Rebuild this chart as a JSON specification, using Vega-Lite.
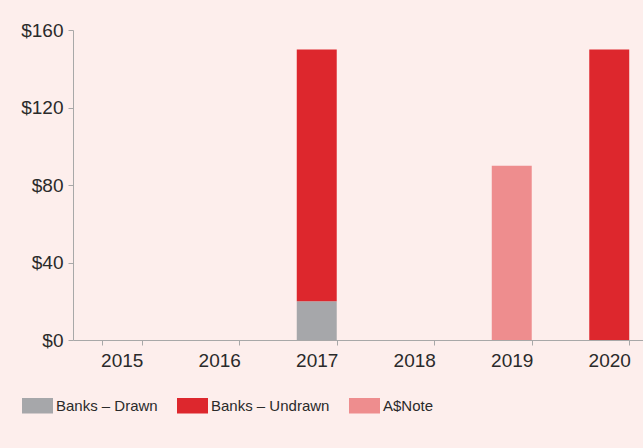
{
  "$schema": "https://vega.github.io/schema/vega-lite/v6.json",
  "width": 585,
  "height": 310,
  "autosize": {"type": "none"},
  "padding": {"left": 73, "top": 30, "right": 0, "bottom": 108},
  "background": "#fdeeec",
  "config": {
    "view": {"stroke": null},
    "font": "Liberation Sans",
    "axis": {"labelFont": "Liberation Sans", "labelFontSize": 19, "labelColor": "#2a2a2a", "domainColor": "#a8a8a8", "tickColor": "#a8a8a8", "tickSize": 5, "grid": false, "title": null}
  },
  "data": {
    "values": [
      {"year": "2017", "series": "Banks – Drawn", "value": 20},
      {"year": "2017", "series": "Banks – Undrawn", "value": 130},
      {"year": "2019", "series": "A$Note", "value": 90},
      {"year": "2020", "series": "Banks – Undrawn", "value": 150}
    ]
  },
  "mark": {"type": "bar"},
  "encoding": {
    "x": {
      "field": "year", "type": "ordinal",
      "scale": {"domain": ["2015", "2016", "2017", "2018", "2019", "2020"], "paddingInner": 0.59, "paddingOuter": 0.295},
      "axis": {"labelAngle": 0, "tickBand": "extent", "labelPadding": 6, "title": null}
    },
    "y": {
      "field": "value", "type": "quantitative", "stack": "zero",
      "scale": {"domain": [0, 160], "nice": false},
      "axis": {"values": [0, 40, 80, 120, 160], "format": "$,.0f", "labelPadding": 5, "title": null}
    },
    "color": {
      "field": "series", "type": "nominal",
      "scale": {"domain": ["Banks – Drawn", "Banks – Undrawn", "A$Note"], "range": ["#a6a7aa", "#dd272d", "#ee8d8e"]},
      "legend": {
        "title": null, "orient": "none", "direction": "horizontal",
        "legendX": -51, "legendY": 360, "padding": 0,
        "symbolType": "M-1,-0.5H1V0.5H-1Z", "symbolSize": 961, "symbolStrokeWidth": 0,
        "labelFont": "Liberation Sans", "labelFontSize": 15, "labelColor": "#2a2a2a",
        "labelOffset": 3, "columnPadding": 19, "symbolOpacity": 1
      }
    },
    "order": {"field": "series", "sort": "ascending"}
  }
}
